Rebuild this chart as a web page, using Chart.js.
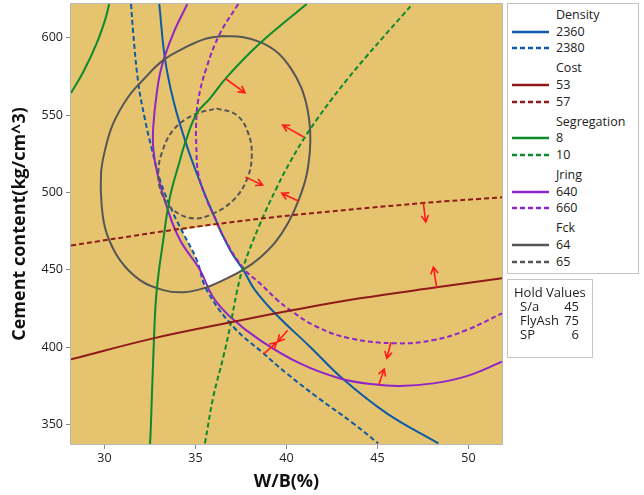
<!DOCTYPE html>
<html>
<head>
<meta charset="utf-8">
<script src="https://cdn.jsdelivr.net/npm/chart.js@4/dist/chart.umd.min.js"></script>
<style>
  html, body { margin: 0; padding: 0; background: #fff; }
  #wrap { position: relative; width: 644px; height: 495px; font-family: "Open Sans", "Noto Sans", sans-serif; color: #222; }
  canvas { position: absolute; left: 0; top: 0; }
  .box { position: absolute; border: 1px solid #c4c4c4; background: #fff; box-sizing: border-box; }
  .t { position: absolute; font-size: 12.5px; line-height: 16px; white-space: nowrap; transform: translateY(-50%); }
  .sw { position: absolute; width: 37px; height: 4px; line-height: 0; transform: translateY(-50%); }
  .sw svg { display: block; }
</style>
</head>
<body>
<div id="wrap">
  <canvas id="c" width="644" height="495"></canvas>
  <div class="box" id="legend" style="left:507px; top:3px; width:132px; height:271px;"></div>
  <div class="box" id="hold" style="left:507px; top:279px; width:86px; height:79px;"></div>
</div>
<script>
// Axis ticks
const xTicks = [30, 35, 40, 45, 50];
const yTicks = [350, 400, 450, 500, 550, 600];

// Contour lines of each response, as [W/B, cement] pairs
const density2360 = [[33.01,621.8],[33.32,586.7],[33.78,559.7],[34.42,533.8],[35.07,512.3],[35.80,490.7],[36.90,462.7],[37.63,449.8],[38.27,436.8],[39.46,420.7],[41.29,400.2],[43.12,379.1],[45.51,357.1],[48.34,337.7]];
const density2380 = [[31.46,621.8],[31.58,602.8],[31.86,570.5],[32.23,546.8],[32.59,528.5],[33.05,508.0],[33.78,486.4],[34.33,473.5],[35.07,456.2],[35.62,436.8],[37.08,413.1],[38.73,395.9],[40.01,382.9],[41.66,367.8],[43.67,350.6],[45.04,337.7]];
const cost53 = [[28.16,392.0],[32.68,405.6],[37.08,416.3],[40.37,423.9],[44.04,431.5],[48.25,438.6],[51.84,444.4]];
const cost57 = [[28.16,465.6],[33.05,474.5],[36.16,479.5],[40.37,485.3],[47.52,493.1],[51.84,496.8]];
const segregation8 = [[32.50,337.3],[32.54,346.3],[32.72,405.6],[32.87,436.8],[33.23,469.2],[33.60,497.2],[34.15,520.9],[34.42,531.7],[35.07,551.1],[35.80,560.8],[36.71,574.4],[38.54,596.4],[41.11,621.8]];
const segregation8Upper = [[28.16,564.2],[28.84,578.0],[29.57,596.4],[30.03,611.4],[30.26,621.8]];
const segregation10 = [[35.52,337.7],[35.98,367.9],[36.53,393.7],[36.90,413.1],[37.26,434.9],[37.63,451.9],[38.54,479.5],[39.46,503.0],[40.19,519.5],[40.92,534.0],[41.66,547.0],[42.50,560.5],[43.40,574.0],[44.40,588.0],[45.40,601.5],[46.40,614.8],[46.93,621.8]];
const jring640 = [[34.55,621.8],[33.78,602.8],[33.14,581.2],[32.87,564.0],[32.68,542.4],[32.68,528.5],[32.90,512.3],[33.42,490.7],[34.15,469.2],[35.25,449.8],[35.96,432.3],[36.90,419.6],[38.54,404.5],[40.74,389.4],[42.94,379.7],[44.77,375.9],[46.24,374.8],[48.07,376.5],[49.90,381.2],[51.84,390.5]];
const jring660 = [[37.35,621.8],[36.35,602.8],[35.62,581.2],[35.15,559.7],[35.03,542.4],[35.04,531.9],[35.15,512.3],[35.62,495.0],[36.13,482.1],[36.53,471.3],[37.63,450.9],[38.54,441.2],[39.46,430.8],[40.19,423.9],[41.66,413.1],[43.49,405.6],[46.05,402.4],[48.07,404.5],[49.90,411.0],[51.84,421.8]];
const fck64 = [[36.53,601.1],[37.63,600.3],[38.60,597.0],[39.55,590.0],[40.25,580.0],[40.80,568.0],[41.15,554.0],[41.30,540.0],[41.28,526.0],[41.08,510.0],[40.65,494.5],[40.10,480.5],[39.40,468.0],[38.54,457.8],[37.63,450.0],[36.53,443.3],[35.43,437.9],[34.33,435.4],[33.23,436.8],[31.95,443.3],[30.85,456.2],[30.12,473.5],[29.85,490.7],[29.81,512.3],[30.03,527.4],[30.48,544.6],[31.31,561.8],[32.10,572.5],[33.23,585.5],[34.52,594.2],[35.60,599.5],[36.53,601.1]];
const fck65 = [[36.16,554.3],[37.26,550.0],[37.90,538.2],[38.09,523.0],[37.81,508.0],[37.08,495.0],[35.98,486.4],[34.88,483.2],[33.78,488.6],[33.14,499.4],[32.96,512.3],[33.14,525.2],[33.78,540.3],[34.88,550.0],[36.16,554.3]];

// Region where every constraint is satisfied
const feasible = [[34.30,475.6],[36.10,479.1],[36.90,462.7],[37.63,449.8],[36.53,443.3],[35.55,438.5],[35.07,456.2],[34.33,473.5],[34.30,475.6]];

// Direction arrows: [fromX, fromY, toX, toY]
const arrows = [
  [36.68,573.3,37.72,564.4],
  [40.92,536.0,39.79,543.5],
  [37.77,509.7,38.69,504.7],
  [40.65,494.4,39.74,499.4],
  [47.52,492.9,47.65,480.8],
  [48.25,438.6,48.07,451.7],
  [45.73,402.8,45.51,392.7],
  [45.08,375.9,45.37,385.8],
  [40.04,410.5,39.52,403.4],
  [38.78,395.9,39.46,403.0]
];

// Legend groups and hold values
const legendGroups = [
  { name: 'Density', color: '#0d5aa8', levels: ['2360', '2380'] },
  { name: 'Cost', color: '#8f1a1a', levels: ['53', '57'] },
  { name: 'Segregation', color: '#0b8a2e', levels: ['8', '10'] },
  { name: 'Jring', color: '#8f25c6', levels: ['640', '660'] },
  { name: 'Fck', color: '#565656', levels: ['64', '65'] }
];
const holdNames = ['S/a', 'FlyAsh', 'SP'];
const holdValues = ['45', '75', '6'];

const PLOT_BG = '#e6c36f';
const DASH = [5, 3];
const FONT = '"Open Sans", "Noto Sans", sans-serif';

const pts = arr => arr.map(p => ({ x: p[0], y: p[1] }));
function curve(data, color, dashed) {
  return {
    data: pts(data), showLine: true, borderColor: color, borderWidth: 2,
    borderDash: dashed ? DASH : [], pointRadius: 0, pointHoverRadius: 0,
    tension: 0.4, fill: false, order: 1
  };
}

const C = legendGroups.map(g => g.color);
const datasets = [
  { data: pts(feasible), showLine: true, borderWidth: 0, borderColor: 'rgba(0,0,0,0)', backgroundColor: '#ffffff', fill: 'shape', pointRadius: 0, tension: 0, order: 10 },
  curve(cost53, C[1], false),
  curve(cost57, C[1], true),
  curve(segregation8, C[2], false),
  curve(segregation8Upper, C[2], false),
  curve(segregation10, C[2], true),
  curve(fck64, C[4], false),
  curve(fck65, C[4], true),
  curve(jring640, C[3], false),
  curve(jring660, C[3], true),
  curve(density2360, C[0], false),
  curve(density2380, C[0], true)
];

const plotFrame = {
  id: 'plotFrame',
  beforeDatasetsDraw(chart) {
    const a = chart.chartArea, ctx = chart.ctx;
    ctx.save();
    ctx.fillStyle = PLOT_BG;
    ctx.fillRect(a.left, a.top, a.right - a.left, a.bottom - a.top);
    ctx.restore();
  },
  afterDatasetsDraw(chart) {
    const a = chart.chartArea, ctx = chart.ctx;
    ctx.save();
    ctx.strokeStyle = '#b9b9b9';
    ctx.lineWidth = 1;
    ctx.strokeRect(a.left - 0.5, a.top - 0.5, a.right - a.left + 1, a.bottom - a.top + 1);
    ctx.restore();
  }
};

const arrowMarks = {
  id: 'arrowMarks',
  afterDatasetsDraw(chart) {
    const xs = chart.scales.x, ys = chart.scales.y, ctx = chart.ctx;
    ctx.save();
    ctx.strokeStyle = '#ff1a1a';
    ctx.lineWidth = 1.6;
    ctx.lineCap = 'round';
    arrows.forEach(([x0, y0, x1, y1]) => {
      const px0 = xs.getPixelForValue(x0), py0 = ys.getPixelForValue(y0);
      const px1 = xs.getPixelForValue(x1), py1 = ys.getPixelForValue(y1);
      const ang = Math.atan2(py1 - py0, px1 - px0);
      const h = 7, spread = 0.5;
      ctx.beginPath();
      ctx.moveTo(px0, py0);
      ctx.lineTo(px1, py1);
      ctx.moveTo(px1 - h * Math.cos(ang - spread), py1 - h * Math.sin(ang - spread));
      ctx.lineTo(px1, py1);
      ctx.lineTo(px1 - h * Math.cos(ang + spread), py1 - h * Math.sin(ang + spread));
      ctx.stroke();
    });
    ctx.restore();
  }
};

const tickFont = { family: FONT, size: 12.5 };
const titleFont = { family: FONT, size: 18, weight: 'bold' };

new Chart(document.getElementById('c'), {
  type: 'scatter',
  data: { datasets },
  options: {
    responsive: false,
    animation: false,
    events: [],
    layout: { padding: { left: 0, right: 142, top: 4, bottom: 0 } },
    plugins: { legend: { display: false }, tooltip: { enabled: false } },
    scales: {
      x: {
        type: 'linear', min: 28.16, max: 51.84,
        afterBuildTicks: s => { s.ticks = xTicks.map(v => ({ value: v })); },
        afterFit: s => { s.height = 51; s.paddingLeft = 0; s.paddingRight = 0; },
        grid: { drawOnChartArea: false, drawTicks: true, tickLength: 5, color: '#8a8a8a' },
        border: { display: false },
        ticks: { color: '#222', font: tickFont, padding: 2, maxRotation: 0 },
        title: { display: true, text: 'W/B(%)', color: '#111', font: titleFont, padding: { top: 0, bottom: 2.5 } }
      },
      y: {
        type: 'linear', min: 337.3, max: 621.8,
        afterBuildTicks: s => { s.ticks = yTicks.map(v => ({ value: v })); },
        afterFit: s => { s.width = 71; s.paddingTop = 0; s.paddingBottom = 0; },
        grid: { drawOnChartArea: false, drawTicks: true, tickLength: 5, color: '#8a8a8a' },
        border: { display: false },
        ticks: { color: '#222', font: tickFont, padding: 3 },
        title: { display: true, text: 'Cement content(kg/cm^3)', color: '#111', font: titleFont, padding: { top: 9, bottom: 0 } }
      }
    }
  },
  plugins: [plotFrame, arrowMarks]
});

// Legend panel
const legendEl = document.getElementById('legend');
function swatch(top, color, dashed) {
  const d = document.createElement('div');
  d.className = 'sw';
  d.style.left = '4px';
  d.style.top = top + 'px';
  d.innerHTML = '<svg width="37" height="4"><line x1="0" y1="2" x2="37" y2="2" stroke="' + color +
    '" stroke-width="2.4"' + (dashed ? ' stroke-dasharray="5,3"' : '') + '/></svg>';
  legendEl.appendChild(d);
}
function label(parent, text, left, top, extra) {
  const s = document.createElement('div');
  s.className = 't';
  s.textContent = text;
  s.style.left = left + 'px';
  s.style.top = top + 'px';
  if (extra) Object.assign(s.style, extra);
  parent.appendChild(s);
}
legendGroups.forEach((g, gi) => {
  const y0 = 11 + gi * 53.3;
  label(legendEl, g.name, 48, y0);
  g.levels.forEach((lv, li) => {
    const y = y0 + 16.7 * (li + 1);
    label(legendEl, lv, 48, y);
    swatch(y, g.color, li === 1);
  });
});

// Hold values panel
const holdEl = document.getElementById('hold');
label(holdEl, 'Hold Values', 6, 12, { fontSize: '13px' });
holdNames.forEach((n, i) => {
  const y = 26 + i * 13.8;
  label(holdEl, n, 12, y, { fontSize: '13px' });
  label(holdEl, holdValues[i], 0, y, { left: 'auto', right: '13px', fontSize: '13px' });
});
</script>
</body>
</html>
